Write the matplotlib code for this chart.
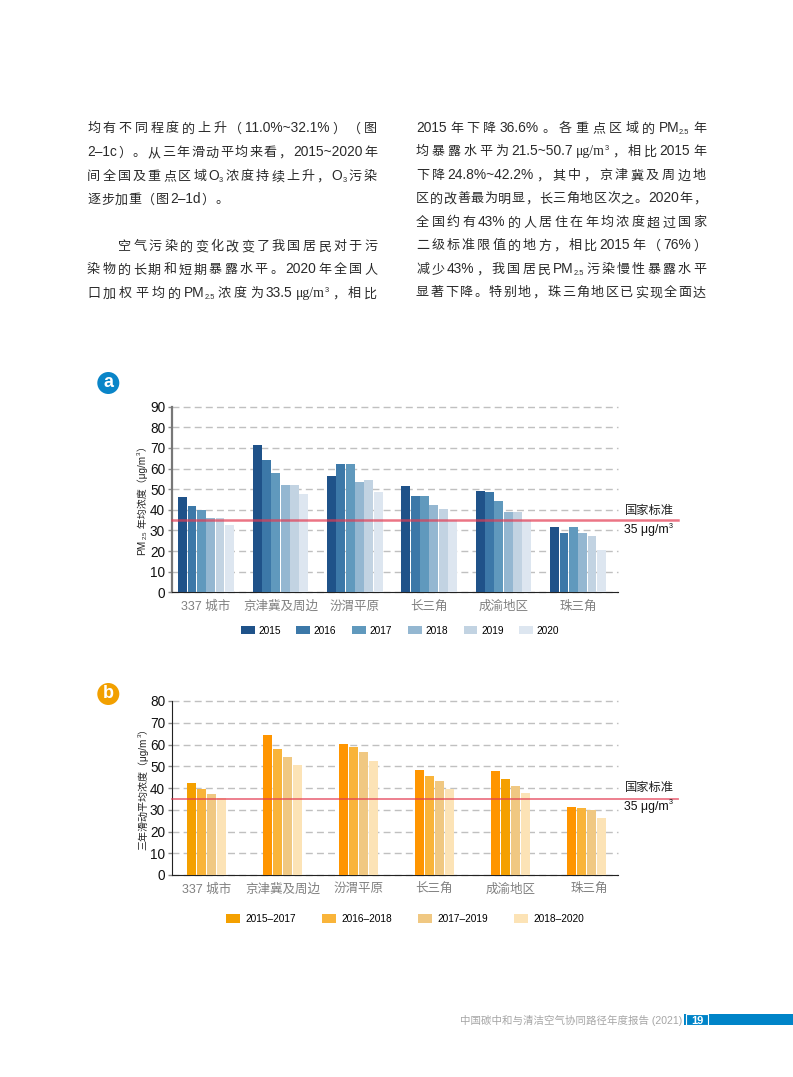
import re
import matplotlib
matplotlib.use("Agg")
import matplotlib.pyplot as plt
from matplotlib.patches import Circle, Rectangle

plt.rcParams['font.family'] = ['Liberation Sans', 'Noto Sans CJK SC', 'DejaVu Sans']

# data
regions = ['337 城市', '京津冀及周边', '汾渭平原', '长三角', '成渝地区', '珠三角']

years_a = ['2015', '2016', '2017', '2018', '2019', '2020']
pm_2015 = [46.2, 71.4, 56.4, 51.5, 49.1, 31.7]
pm_2016 = [41.8, 64.1, 62.2, 46.7, 48.6, 28.8]
pm_2017 = [39.9, 57.8, 62.2, 46.7, 44.3, 31.7]
pm_2018 = [36.0, 52.0, 53.5, 42.3, 38.9, 28.8]
pm_2019 = [36.0, 52.0, 54.4, 40.4, 38.9, 27.3]
pm_2020 = [32.6, 47.7, 48.6, 35.0, 35.0, 20.5]
series_a = [pm_2015, pm_2016, pm_2017, pm_2018, pm_2019, pm_2020]

years_b = ['2015–2017', '2016–2018', '2017–2019', '2018–2020']
avg_2017 = [42.3, 64.4, 60.2, 48.3, 47.8, 31.3]
avg_2018 = [39.5, 57.9, 58.9, 45.5, 44.1, 30.8]
avg_2019 = [37.2, 54.3, 56.6, 43.2, 40.9, 29.9]
avg_2020 = [35.4, 50.6, 52.4, 39.5, 37.7, 26.2]
series_b = [avg_2017, avg_2018, avg_2019, avg_2020]

standard = 35

colors_a = ['#1f5289', '#3c78a8', '#6099bd', '#94b7d1', '#c2d3e2', '#dde6f0']
colors_b = [['#f4a000', '#ff9500', '#ff9500', '#ff9500', '#ff9500', '#ff9500'],
            ['#f9b43a', '#f9b43a', '#f9b43a', '#f9b43a', '#f4a000', '#f9b43a'],
            ['#f0c882'] * 6,
            ['#fce3b6'] * 6]

left_lines = [
    (87, 377, 128, '均有不同程度的上升（11.0%~32.1%）（图'),
    (87, 377, 152, '2–1c）。从三年滑动平均来看，2015~2020 年'),
    (87, 377, 176, '间全国及重点区域 O{3} 浓度持续上升，O{3} 污染'),
    (87, 228, 199, '逐步加重（图 2–1d）。'),
    (118, 377, 246, '空气污染的变化改变了我国居民对于污'),
    (87, 377, 269, '染物的长期和短期暴露水平。2020 年全国人'),
    (87, 377, 293, '口加权平均的 PM{2.5} 浓度为 33.5 μg/m[3]，相比'),
]
right_lines = [
    (416, 706, 128, '2015 年下降 36.6%。各重点区域的 PM{2.5} 年'),
    (416, 706, 151, '均暴露水平为 21.5~50.7 μg/m[3]，相比 2015 年'),
    (416, 706, 175, '下降 24.8%~42.2%，其中，京津冀及周边地'),
    (416, 706, 198, '区的改善最为明显，长三角地区次之。2020 年，'),
    (416, 706, 222, '全国约有 43% 的人居住在年均浓度超过国家'),
    (416, 706, 245, '二级标准限值的地方，相比 2015 年（76%）'),
    (416, 706, 269, '减少 43%，我国居民 PM{2.5} 污染慢性暴露水平'),
    (416, 706, 292, '显著下降。特别地，珠三角地区已实现全面达'),
]

W, H = 793, 1077
fig = plt.figure(figsize=(W / 100, H / 100), dpi=100)
page = fig.add_axes([0, 0, 1, 1], zorder=5)
page.set_xlim(0, W)
page.set_ylim(H, 0)
page.axis('off')
renderer = fig.canvas.get_renderer()


def body_line(x0, x1, y, line, size=9.4, color='#2a2a2a'):
    # justified line, latin runs stay together, CJK gets spread out
    tokens = re.findall(r'\{[^}]*\}|\[[^\]]*\]|[A-Za-z0-9.%~–/μ]+|\S', line)
    items = []
    total = 0
    base = y + 4.4
    for tok in tokens:
        small = tok[0] in '{['
        txt = tok[1:-1] if small else tok
        is_latin = txt[0].isascii() or 'μ' in txt
        s = size * 0.58 if small else (size * 1.05 if is_latin else size)
        t = page.text(0, base, txt, fontsize=s, color=color, va='baseline', ha='left',
                      family='Liberation Serif' if 'μ' in txt else None)
        w = t.get_window_extent(renderer).width
        items.append((t, w, tok[0]))
        total += w
    gaps = sum(1 for it in items[1:] if it[2] not in '{[')
    gap = (x1 - x0 - total) / max(gaps, 1)
    x = x0
    for i, (t, w, kind) in enumerate(items):
        if i and kind not in '{[':
            x += gap
        t.set_x(x)
        if kind == '{':
            t.set_y(base + 2)
        elif kind == '[':
            t.set_y(base - 5.5)
        x += w


def rotated_label(x, y, parts, size=7.2):
    # parts go bottom to top, (text, 'n'|'sub'|'sup')
    for txt, kind in parts:
        s = size * 0.62 if kind != 'n' else size
        dx = {'n': 0, 'sub': 2.5, 'sup': -3}[kind]
        t = page.text(x + dx, y, txt, fontsize=s, rotation=90, ha='center', va='bottom', color='#222222')
        y -= t.get_window_extent(renderer).height + 0.3


def make_chart(top, bottom, ymax, series, names, colors, centre0, spacing, step, width, line_w):
    ax = fig.add_axes([172 / W, 1 - bottom / H, (618 - 172) / W, (bottom - top) / H])
    n = len(series)
    for j, vals in enumerate(series):
        xs = [i + (j - (n - 1) / 2) * step / spacing for i in range(len(vals))]
        ax.bar(xs, vals, width=width / spacing, color=colors[j], label=names[j], zorder=3)
    ax.set_xlim((172 - centre0) / spacing, (618 - centre0) / spacing)
    ax.set_ylim(0, ymax)
    ax.set_yticks(range(0, ymax + 1, 10))
    ax.tick_params(axis='y', labelsize=9.8, length=3, width=1, color='#888888', pad=2, labelcolor='#111111')
    ax.tick_params(axis='x', labelsize=9, length=0, pad=12.5, labelcolor='#808080')
    ax.grid(axis='y', color='#c0c0c0', lw=1, ls=(0, (5, 3)), zorder=1, clip_on=False)
    ax.set_axisbelow(True)
    for s in ['top', 'right']:
        ax.spines[s].set_visible(False)
    ax.spines['bottom'].set_color('#222222')
    ax.axhline(standard, xmin=0, xmax=(678 - 172) / (618 - 172), color='#e33b52', alpha=0.7,
               lw=line_w, zorder=4, clip_on=False)
    return ax


# chart a
ax_a = make_chart(406.7, 592.3, 90, series_a, years_a, colors_a, 206, 74.4, 9.33, 8.9, 1.8)
ax_a.set_xticks(range(6))
ax_a.set_xticklabels(regions, va='baseline')
ax_a.spines['left'].set_color('#777777')
ax_a.spines['left'].set_linewidth(1.6)
ax_a.legend(loc='center', bbox_to_anchor=(400 / W, 1 - 630.7 / H), bbox_transform=fig.transFigure, ncol=6,
            frameon=False, fontsize=7.3, handlelength=1.37, handleheight=0.85, handletextpad=0.35,
            columnspacing=1.55, borderpad=0)

# chart b
ax_b = make_chart(701, 875, 80, series_b, years_b, colors_b, 206.5, 76, 10, 9, 1.3)
ax_b.set_xticks([0, 1, 2, 3, 4, 5.04])
ax_b.set_xticklabels(regions, va='baseline')
ax_b.spines['left'].set_color('#222222')
ax_b.legend(loc='center', bbox_to_anchor=(405 / W, 1 - 919 / H), bbox_transform=fig.transFigure, ncol=4,
            frameon=False, fontsize=7.3, handlelength=1.37, handleheight=0.85, handletextpad=0.5,
            columnspacing=2.6, borderpad=0)

# page text
for x0, x1, y, line in left_lines + right_lines:
    body_line(x0, x1, y, line)

rotated_label(142.5, 555, [('PM', 'n'), ('2.5', 'sub'), (' 年均浓度（μg/m', 'n'), ('3', 'sup'), ('）', 'n')])
rotated_label(143.5, 850, [('三年滑动平均浓度（μg/m', 'n'), ('3', 'sup'), ('）', 'n')])

for y1, y2 in [(510.7, 530), (787.7, 806.7)]:
    page.text(625, y1, '国家标准', fontsize=8.8, va='center', color='#222222')
    unit = page.text(624, y2, '35 μg/m', fontsize=8.8, va='center', color='#111111')
    page.text(624 + unit.get_window_extent(renderer).width + 0.5, y2 - 4, '3', fontsize=5.2, va='center', color='#111111')

# badges
for y, col, letter in [(383, '#0a85c8', 'a'), (694, '#f2a000', 'b')]:
    page.add_patch(Circle((108.3, y), 11, color=col, lw=0))
    page.text(108.3, y - 0.5, letter, color='white', fontsize=13, fontweight='bold', ha='center', va='center')

# footer
page.text(460, 1020, '中国碳中和与清洁空气协同路径年度报告 (2021)', fontsize=7.55, color='#a6a6a6', va='center')
page.add_patch(Rectangle((684, 1014), 109, 11, color='#0084c8', lw=0))
page.add_patch(Rectangle((686, 1014), 22, 11, facecolor='#0084c8', edgecolor='white', lw=0.8))
page.text(697.5, 1023.5, '19', color='white', fontsize=8, fontweight='bold', ha='center', va='baseline')

fig.savefig('out.png', dpi=100)
plt.close('all')
